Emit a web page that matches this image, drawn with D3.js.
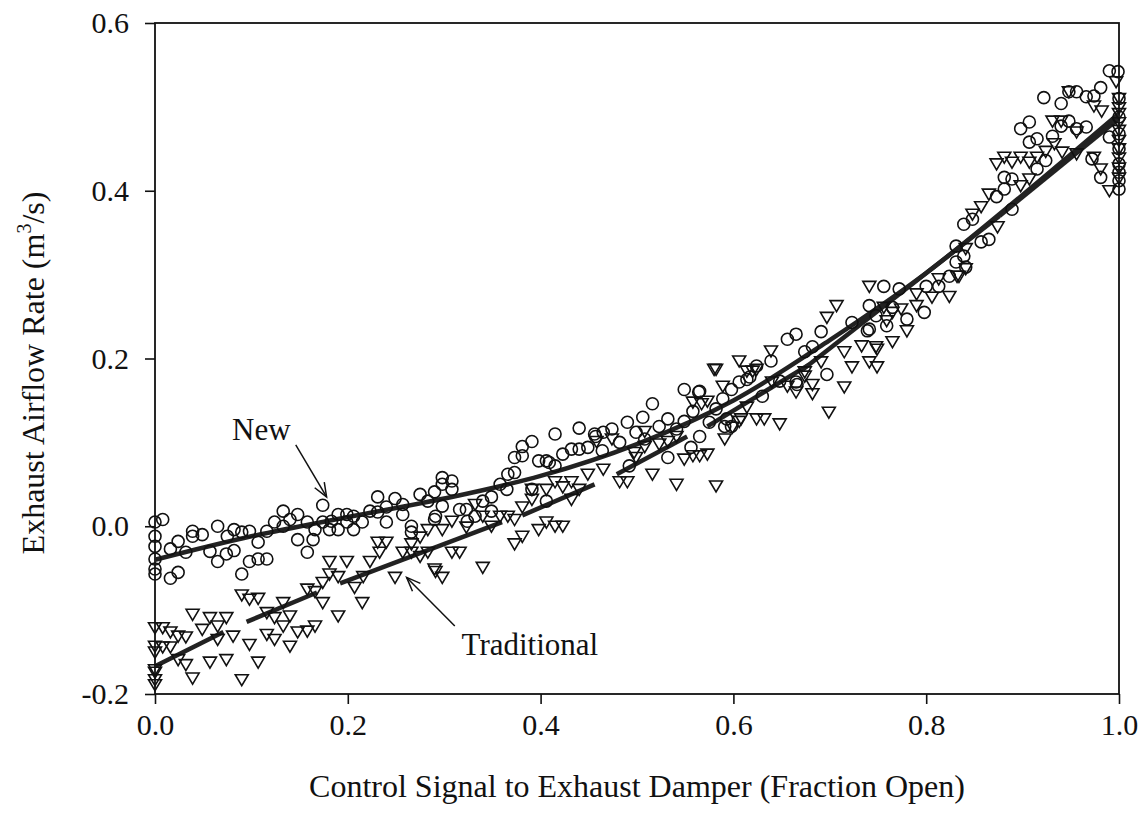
<!DOCTYPE html>
<html>
<head>
<meta charset="utf-8">
<script src="https://cdn.jsdelivr.net/npm/d3@7"></script>
<style>
  body { margin: 0; background: #fff; }
  text { font-family: "Liberation Serif", "Times New Roman", serif; fill: #111; }
</style>
</head>
<body>
<div id="chart"></div>
<script>
// Chart size
var svgWidth = 1141;
var svgHeight = 814;

// Axis ticks
var xTicks = [0, 0.2, 0.4, 0.6, 0.8, 1.0];
var xTickLabels = ["0.0", "0.2", "0.4", "0.6", "0.8", "1.0"];
var yTicks = [-0.2, 0, 0.2, 0.4, 0.6];
var yTickLabels = ["-0.2", "0.0", "0.2", "0.4", "0.6"];

// "New" damper measurements (circles): [signal, airflow]
var newPoints = [
  [0, 0.005], [0.008, 0.008], [0, -0.012], [0, -0.024], [0, -0.039], [0, -0.051], [0, -0.057],
  [0.016, -0.027], [0.024, -0.018], [0.016, -0.062], [0.024, -0.055], [0.032, -0.031],
  [0.039, -0.006], [0.049, -0.010], [0.039, -0.012], [0.057, -0.030], [0.065, 0.000],
  [0.065, -0.042], [0.074, -0.033], [0.075, -0.012], [0.082, -0.004], [0.082, -0.029],
  [0.090, -0.007], [0.098, -0.006], [0.090, -0.057], [0.098, -0.042], [0.107, -0.039],
  [0.116, -0.039], [0.107, -0.019], [0.116, -0.006], [0.124, 0.005], [0.133, 0.018],
  [0.133, 0.000], [0.140, 0.008], [0.148, 0.014], [0.148, -0.016], [0.158, 0.005],
  [0.158, -0.031], [0.164, -0.016], [0.166, -0.004], [0.174, 0.025], [0.174, 0.005],
  [0.181, -0.004], [0.183, 0.006], [0.190, 0.014], [0.190, -0.004], [0.199, 0.014],
  [0.199, 0.005], [0.206, 0.012], [0.206, -0.004], [0.215, 0.005], [0.223, 0.018],
  [0.231, 0.035], [0.231, 0.017], [0.240, 0.023], [0.240, 0.005], [0.249, 0.033],
  [0.257, 0.014], [0.275, 0.038], [0.290, 0.041], [0.298, 0.050], [0.266, -0.007],
  [0.290, 0.008], [0.257, 0.026], [0.266, 0.000], [0.283, 0.030], [0.291, 0.012],
  [0.298, 0.058], [0.308, 0.054], [0.308, 0.044], [0.298, 0.024], [0.316, 0.020],
  [0.323, 0.020], [0.324, 0.006], [0.332, 0.012], [0.340, 0.030], [0.349, 0.035],
  [0.349, 0.018], [0.358, 0.050], [0.365, 0.044], [0.366, 0.062], [0.373, 0.064],
  [0.373, 0.082], [0.381, 0.084], [0.381, 0.095], [0.391, 0.101], [0.391, 0.044],
  [0.398, 0.078], [0.406, 0.078], [0.406, 0.030], [0.415, 0.110], [0.415, 0.072],
  [0.423, 0.086], [0.432, 0.092], [0.440, 0.092], [0.440, 0.117], [0.449, 0.094],
  [0.457, 0.107], [0.465, 0.112], [0.474, 0.116], [0.482, 0.100], [0.490, 0.124],
  [0.499, 0.112], [0.506, 0.130], [0.516, 0.146], [0.523, 0.119], [0.532, 0.128],
  [0.532, 0.082], [0.541, 0.116], [0.549, 0.163], [0.549, 0.125], [0.558, 0.137],
  [0.556, 0.094], [0.564, 0.160], [0.565, 0.107], [0.575, 0.124], [0.593, 0.128],
  [0.456, 0.110], [0.565, 0.161], [0.582, 0.140], [0.589, 0.152], [0.598, 0.163],
  [0.606, 0.172], [0.617, 0.178], [0.624, 0.191], [0.639, 0.197], [0.656, 0.223],
  [0.665, 0.229], [0.674, 0.208], [0.682, 0.214], [0.691, 0.232], [0.666, 0.169],
  [0.697, 0.181], [0.723, 0.243], [0.741, 0.263], [0.748, 0.251], [0.741, 0.235],
  [0.759, 0.239], [0.409, 0.076], [0.464, 0.090], [0.492, 0.072], [0.508, 0.104],
  [0.630, 0.155], [0.648, 0.173], [0.598, 0.119], [0.756, 0.286], [0.772, 0.283],
  [0.800, 0.286], [0.798, 0.255], [0.780, 0.247], [0.765, 0.261], [0.739, 0.233],
  [0.665, 0.172], [0.614, 0.175], [0.591, 0.119], [0.813, 0.286], [0.824, 0.298],
  [0.841, 0.309], [0.831, 0.315], [0.839, 0.322], [0.831, 0.334], [0.839, 0.360],
  [0.857, 0.339], [0.865, 0.342], [0.873, 0.393], [0.990, 0.543], [0.999, 0.542],
  [0.922, 0.511], [0.940, 0.504], [0.948, 0.518], [0.956, 0.518], [0.966, 0.512],
  [0.974, 0.513], [0.981, 0.523], [0.898, 0.474], [0.907, 0.482], [0.907, 0.458],
  [0.915, 0.462], [0.931, 0.465], [0.940, 0.477], [0.948, 0.483], [0.956, 0.474],
  [0.966, 0.476], [0.990, 0.464], [0.915, 0.426], [0.924, 0.436], [0.881, 0.416],
  [0.889, 0.414], [0.881, 0.402], [0.889, 0.378], [0.848, 0.366], [0.981, 0.416],
  [0.972, 0.438], [1.0, 0.510], [1.0, 0.488], [1.0, 0.468], [1.0, 0.450], [1.0, 0.432],
  [1.0, 0.422], [1.0, 0.412], [1.0, 0.402]
];

// "Traditional" damper measurements (down triangles): [signal, airflow]
var tradPoints = [
  [0, -0.121], [0.008, -0.121], [0.016, -0.126], [0.024, -0.131], [0.032, -0.132],
  [0, -0.143], [0.008, -0.144], [0.016, -0.144], [0, -0.150], [0, -0.171], [0, -0.174],
  [0, -0.183], [0, -0.189], [0.024, -0.159], [0.032, -0.165], [0.039, -0.105],
  [0.049, -0.123], [0.057, -0.109], [0.065, -0.119], [0.074, -0.109], [0.065, -0.135],
  [0.057, -0.162], [0.074, -0.159], [0.039, -0.181], [0.081, -0.131], [0.090, -0.183],
  [0.098, -0.141], [0.107, -0.162], [0.090, -0.082], [0.098, -0.087], [0.107, -0.086],
  [0.116, -0.103], [0.116, -0.129], [0.124, -0.135], [0.124, -0.109], [0.133, -0.091],
  [0.133, -0.119], [0.140, -0.107], [0.140, -0.143], [0.148, -0.126], [0.158, -0.125],
  [0.166, -0.119], [0.158, -0.075], [0.166, -0.078], [0.174, -0.067], [0.174, -0.091],
  [0.181, -0.042], [0.181, -0.057], [0.190, -0.060], [0.190, -0.107], [0.199, -0.042],
  [0.207, -0.073], [0.215, -0.091], [0.223, -0.042], [0.233, -0.031], [0.231, -0.019],
  [0.240, -0.019], [0.249, -0.061], [0.257, -0.031], [0.216, -0.060], [0.275, -0.013],
  [0.283, -0.004], [0.290, -0.051], [0.298, -0.061], [0.298, -0.004], [0.266, -0.031],
  [0.266, -0.021], [0.275, -0.036], [0.283, -0.031], [0.291, -0.054], [0.308, -0.031],
  [0.308, 0.006], [0.316, -0.031], [0.323, -0.001], [0.332, 0.026], [0.340, -0.049],
  [0.340, 0.012], [0.349, 0.000], [0.358, 0.012], [0.366, 0.012], [0.373, 0.008],
  [0.373, -0.021], [0.381, -0.012], [0.381, 0.023], [0.391, 0.044], [0.391, 0.032],
  [0.398, -0.004], [0.406, 0.005], [0.406, 0.044], [0.415, 0.000], [0.415, 0.053],
  [0.423, 0.000], [0.423, 0.047], [0.432, 0.053], [0.432, 0.032], [0.440, 0.044],
  [0.449, 0.062], [0.458, 0.101], [0.465, 0.068], [0.474, 0.104], [0.482, 0.053],
  [0.490, 0.053], [0.499, 0.082], [0.508, 0.095], [0.508, 0.113], [0.516, 0.062],
  [0.523, 0.098], [0.532, 0.101], [0.541, 0.050], [0.541, 0.107], [0.549, 0.080],
  [0.558, 0.084], [0.558, 0.148], [0.582, 0.048], [0.591, 0.104], [0.599, 0.118],
  [0.573, 0.086], [0.565, 0.084], [0.608, 0.128], [0.624, 0.128], [0.497, 0.088],
  [0.567, 0.146], [0.573, 0.149], [0.582, 0.187], [0.589, 0.167], [0.606, 0.125],
  [0.614, 0.185], [0.632, 0.128], [0.606, 0.197], [0.624, 0.187], [0.639, 0.209],
  [0.648, 0.122], [0.656, 0.167], [0.665, 0.160], [0.674, 0.184], [0.682, 0.158],
  [0.682, 0.169], [0.699, 0.136], [0.691, 0.196], [0.697, 0.249], [0.707, 0.263],
  [0.715, 0.208], [0.715, 0.166], [0.723, 0.190], [0.733, 0.215], [0.741, 0.196],
  [0.749, 0.211], [0.749, 0.190], [0.765, 0.220], [0.759, 0.245], [0.741, 0.286],
  [0.580, 0.187], [0.620, 0.185], [0.748, 0.214], [0.780, 0.233], [0.756, 0.261],
  [0.774, 0.259], [0.790, 0.277], [0.806, 0.273], [0.824, 0.274], [0.841, 0.307],
  [0.832, 0.298], [0.841, 0.331], [0.848, 0.372], [0.857, 0.381], [0.865, 0.396],
  [0.813, 0.295], [0.790, 0.263], [0.765, 0.255], [0.614, 0.142], [0.640, 0.172],
  [0.674, 0.179], [0.997, 0.530], [0.948, 0.518], [0.931, 0.483], [0.940, 0.483],
  [0.956, 0.470], [0.974, 0.501], [0.982, 0.495], [0.974, 0.440], [0.981, 0.426],
  [0.990, 0.400], [0.873, 0.432], [0.881, 0.440], [0.889, 0.434], [0.898, 0.440],
  [0.907, 0.434], [0.915, 0.440], [0.924, 0.447], [0.933, 0.456], [0.941, 0.446],
  [0.956, 0.444], [0.898, 0.406], [0.907, 0.414], [0.874, 0.357], [0.834, 0.298],
  [1.0, 0.510], [1.0, 0.499], [1.0, 0.492], [1.0, 0.481], [1.0, 0.472], [1.0, 0.460],
  [1.0, 0.450], [1.0, 0.439], [1.0, 0.427], [1.0, 0.415]
];

// Fitted curve for "New"
var newFitX = [0, 0.1, 0.2, 0.3, 0.4, 0.5, 0.6, 0.7, 0.8, 0.9, 1.0];
var newFitY = [-0.040, -0.012, 0.011, 0.033, 0.060, 0.098, 0.150, 0.222, 0.302, 0.395, 0.492];

// Fitted pieces for "Traditional": [x0, y0, x1, y1]
var tradFitSegments = [
  [0, -0.167, 0.071, -0.126],
  [0.095, -0.114, 0.168, -0.079],
  [0.192, -0.068, 0.360, 0.005],
  [0.381, 0.013, 0.456, 0.050],
  [0.479, 0.062, 0.552, 0.107],
  [0.573, 0.119, 0.679, 0.193],
  [0.672, 0.187, 0.876, 0.370],
  [0.876, 0.370, 1.0, 0.486]
];

var svg = d3.select("#chart")
  .append("svg")
  .attr("width", svgWidth)
  .attr("height", svgHeight);

var x = d3.scaleLinear().domain([0, 1]).range([155, 1119]);
var y = d3.scaleLinear().domain([-0.2, 0.6]).range([694, 23]);

// Axes with outward ticks
var bottomAxis = d3.axisBottom(x).tickValues(xTicks)
  .tickFormat((d, i) => xTickLabels[i]).tickSizeInner(10).tickSizeOuter(0).tickPadding(14);
var leftAxis = d3.axisLeft(y).tickValues(yTicks)
  .tickFormat((d, i) => yTickLabels[i]).tickSizeInner(10).tickSizeOuter(0).tickPadding(16);

var gx = svg.append("g").attr("transform", "translate(0,694)").call(bottomAxis);
var gy = svg.append("g").attr("transform", "translate(155,0)").call(leftAxis);
[gx, gy].forEach(g => {
  g.select(".domain").remove();
  g.selectAll("line").attr("stroke", "#111").attr("stroke-width", 1.6);
  g.selectAll("text").attr("font-size", 30).attr("font-family", "Liberation Serif").attr("fill", "#111");
});
gx.selectAll("text").attr("dy", "0.71em").attr("y", 20);

// Frame
svg.append("rect")
  .attr("x", 155).attr("y", 23)
  .attr("width", 1119 - 155).attr("height", 694 - 23)
  .attr("fill", "none").attr("stroke", "#111").attr("stroke-width", 1.8);

// Fit lines
var line = d3.line().x(d => x(d[0])).y(d => y(d[1]));
svg.append("path")
  .datum(newFitX.map((v, i) => [v, newFitY[i]]))
  .attr("d", line.curve(d3.curveCatmullRom))
  .attr("fill", "none").attr("stroke", "#222").attr("stroke-width", 4.5);
line.curve(d3.curveLinear);

svg.selectAll(".tradfit")
  .data(tradFitSegments)
  .enter()
  .append("path")
  .attr("class", "tradfit")
  .attr("d", d => line([[d[0], d[1]], [d[2], d[3]]]))
  .attr("fill", "none").attr("stroke", "#222").attr("stroke-width", 4.5);

// Markers
svg.selectAll(".newpt")
  .data(newPoints)
  .enter()
  .append("circle")
  .attr("class", "newpt")
  .attr("cx", d => x(d[0]))
  .attr("cy", d => y(d[1]))
  .attr("r", 6)
  .attr("fill", "none")
  .attr("stroke", "#111")
  .attr("stroke-width", 1.6);

svg.selectAll(".tradpt")
  .data(tradPoints)
  .enter()
  .append("path")
  .attr("class", "tradpt")
  .attr("d", "M-6.5,-5L6.5,-5L0,6Z")
  .attr("transform", d => `translate(${x(d[0])},${y(d[1])})`)
  .attr("fill", "none")
  .attr("stroke", "#111")
  .attr("stroke-width", 1.6)
  .attr("stroke-linejoin", "miter");

// Annotations with open arrowheads
function arrow(x0, y0, x1, y1) {
  var px0 = x(x0), py0 = y(y0), px1 = x(x1), py1 = y(y1);
  var a = Math.atan2(py1 - py0, px1 - px0);
  var len = 15, spread = 0.38;
  var g = svg.append("g").attr("stroke", "#111").attr("stroke-width", 1.5).attr("fill", "none");
  g.append("line").attr("x1", px0).attr("y1", py0).attr("x2", px1).attr("y2", py1);
  g.append("path").attr("d",
    `M${px1 - len * Math.cos(a - spread)},${py1 - len * Math.sin(a - spread)}` +
    `L${px1},${py1}` +
    `L${px1 - len * Math.cos(a + spread)},${py1 - len * Math.sin(a + spread)}`);
}

svg.append("text").attr("x", x(0.080)).attr("y", y(0.103))
  .attr("font-size", 31).text("New");
arrow(0.146, 0.097, 0.178, 0.035);

svg.append("text").attr("x", x(0.318)).attr("y", y(-0.153))
  .attr("font-size", 31).text("Traditional");
arrow(0.311, -0.119, 0.261, -0.061);

// Axis titles
svg.append("text")
  .attr("x", 637).attr("y", 797)
  .attr("text-anchor", "middle")
  .attr("font-size", 32)
  .text("Control Signal to Exhaust Damper (Fraction Open)");

var yTitle = svg.append("text")
  .attr("transform", "translate(44,373) rotate(-90)")
  .attr("text-anchor", "middle")
  .attr("font-size", 32);
yTitle.append("tspan").text("Exhaust Airflow Rate (m");
yTitle.append("tspan").attr("font-size", 20).attr("dy", -13).text("3");
yTitle.append("tspan").attr("dy", 13).text("/s)");
</script>
</body>
</html>
